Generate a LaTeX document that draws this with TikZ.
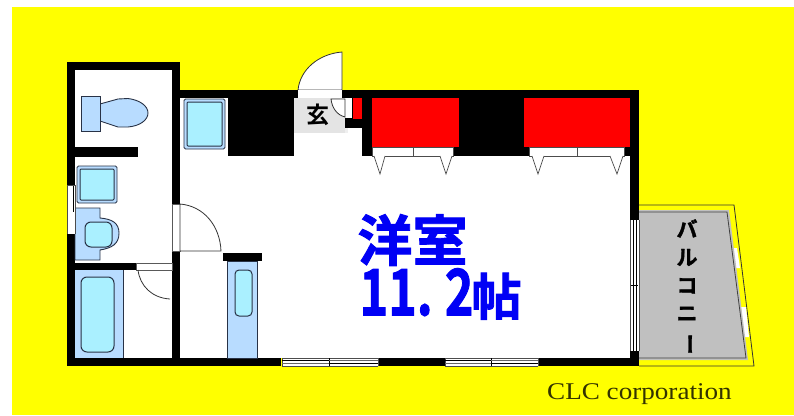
\documentclass[tikz,border=0pt]{standalone}
\usepackage{fontspec}
\usepackage{graphicx}
\setmainfont{Liberation Serif}
\newfontfamily\cjk{Noto Sans CJK JP}[BoldFont={* Bold}]
\newfontfamily\cjkheavy{Noto Sans CJK JP Bold}[FakeBold=1.6]
\definecolor{yel}{RGB}{255,255,0}
\definecolor{fixt}{RGB}{184,220,255}
\definecolor{aqua}{RGB}{170,240,255}
\definecolor{edge}{RGB}{40,50,70}
\definecolor{grayfloor}{RGB}{192,192,192}
\definecolor{hall}{RGB}{228,228,228}
\definecolor{roomblue}{RGB}{0,0,245}
\tikzset{
  wall/.style={fill=black,draw=none},
  openstrip/.style={fill=white,draw=black!65,line width=.7pt},
  doorleaf/.style={fill=white,draw=black!80,line width=.8pt},
  fixture/.style={fill=fixt,draw=edge,line width=.9pt},
  basin/.style={fill=aqua,draw=edge,line width=1pt},
  redbox/.style={fill=red,draw=none},
  hanger/.style={fill=white,draw=black!70,line width=.7pt},
}
\begin{document}
\begin{tikzpicture}[x=1pt,y=-1pt]
\useasboundingbox (0,0) rectangle (794,415);
\fill[white] (0,0) rectangle (794,415);
\fill[yel] (12,7) rectangle (794,415);
% floor
\fill[white] (75,70) rectangle (172,358);
\fill[white] (180,98) rectangle (630,358);
% balcony
\draw[fill=yel,draw=black!80,line width=.8pt] (639,205) -- (734,205) -- (754,366) -- (639,366);
\fill[white] (732,248) -- (737,248) -- (740,268) -- (735,268) -- cycle;
\fill[white] (741,307) -- (746,307) -- (749,337) -- (744,337) -- cycle;
\fill[grayfloor] (639,210) -- (729,210) -- (748,360) -- (639,360) -- cycle;
\draw[fill=grayfloor,draw=black!75,line width=.8pt] (639,212) -- (727,212) -- (746,358) -- (639,358);
% walls
\path[wall] (67,62) rectangle (180,70);
\path[wall] (67,62) rectangle (75,185);
\path[wall] (67,233) rectangle (75,366);
\path[wall] (172,62) rectangle (180,204);
\path[wall] (172,251) rectangle (180,366);
\path[wall] (180,90) rectangle (639,98);
\path[wall] (75,147) rectangle (138,157);
\path[wall] (75,263) rectangle (136,270);
\path[wall] (67,358) rectangle (281,366);
\path[wall] (378,358) rectangle (445,366);
\path[wall] (538,358) rectangle (639,366);
\path[wall] (630,90) rectangle (639,220);
\path[wall] (630,351) rectangle (639,366);
\path[wall] (228,98) rectangle (294,156);
\path[wall] (362,98) rectangle (630,156);
\path[wall] (343,98) rectangle (362,128);
% hall
\fill[hall] (294,98) rectangle (345,133);
\fill[hall!60!white] (345,128) rectangle (348,133);
\node[font=\cjk\bfseries,inner sep=0pt] (genkan) at (318,115) {\fontsize{23}{23}\selectfont 玄};
% entrance door
\draw[doorleaf] (342,90) -- (342,52) .. controls (318,54) and (300,70) .. (298,90) -- cycle;
\fill[white] (298,90) rectangle (342,98);
% small cupboard by the door
\fill[white] (345,98) rectangle (352,118);
\draw[doorleaf] (331,99) .. controls (332,108) and (337,115) .. (345,117) -- (345,99) -- cycle;
\path[redbox] (353,98) rectangle (362,119);
% closets
\path[redbox] (372,98) rectangle (459,147);
\path[redbox] (524,98) rectangle (630,147);
\draw[hanger] (372,147) rectangle (413,156);
\draw[hanger] (413,147) rectangle (453,156);
\draw[hanger] (529,147) rectangle (577,156);
\draw[hanger] (577,147) rectangle (624,156);
\draw[hanger] (374,156) -- (380,174) -- (385,156);
\draw[hanger] (440,156) -- (446,174) -- (452,156);
\draw[hanger] (532,156) -- (538,174) -- (544,156);
\draw[hanger] (610,156) -- (617,174) -- (623,156);
% toilet
\draw[fixture] (100,104) -- (118,99) -- (128,98.5) .. controls (140,100) and (148,106) .. (148,113) .. controls (148,120) and (140,126) .. (128,127) -- (118,127) -- (100,121) -- cycle;
\draw[fixture] (81,96) rectangle (100,131);
% tubs & basins
\draw[fixture,rounded corners=1.5pt] (184,99) rectangle (225,149);
\draw[basin,rounded corners=1pt] (187,102) rectangle (222,146);
\draw[fixture,rounded corners=1.5pt] (77,166) rectangle (117,203);
\draw[basin,rounded corners=1pt] (80,169) rectangle (114,200);
% washbasin
\draw[fixture,draw=edge] (75,208) -- (100,208) -- (100,218) .. controls (112,219) and (119,223) .. (119,233) .. controls (119,244) and (112,248) .. (100,250) -- (100,260) -- (75,260) -- cycle;
\draw[basin,rounded corners=6pt] (85,222) rectangle (112,247);
% side window left
\fill[white] (67,185) rectangle (75,234);
\draw[black!70,line width=.6pt] (67,185) -- (75,185) (75,185) -- (75,234) (67,234) -- (67,185);
\draw[black,line width=1pt] (73,186) -- (73,212);
% bath
\fill[fixt] (75,270) rectangle (123,358);
\draw[edge,line width=.8pt] (123,270) -- (123,358);
\draw[basin,rounded corners=6pt] (81,277) rectangle (114,352);
% doors
\draw[openstrip] (172,204) rectangle (180,251);
\draw[doorleaf] (180,251) -- (221,251) .. controls (220,226) and (204,206) .. (180,204) -- cycle;
\draw[openstrip] (136,263) rectangle (172,270);
\draw[black!80,line width=.8pt] (138,270) .. controls (140,286) and (152,298) .. (170,299);
% closet unit
\draw[fixture,line width=.8pt] (227.5,261) rectangle (257.5,358);
\path[wall] (223,253) rectangle (262,261);
\draw[basin,rounded corners=4pt] (235,270) rectangle (252,316);
% bottom windows
\foreach \a/\m/\b in {282/329/378,445/491/538}{
  \fill[white] (\a,358) rectangle (\b,366);
  \draw[black!70,line width=.6pt] (\a,358) -- (\b,358) (\a,366) -- (\b,366) (\a,358) -- (\a,366) (\b,358) -- (\b,366);
  \draw[black,line width=.7pt] (\a,360.5) -- (\m+5,360.5) (\m-5,363) -- (\b,363) (\m,358) -- (\m,366);
  \draw[black!60,line width=.7pt] (\m,363.5) -- (\a,363.5) (\m,360.5) -- (\b,360.5);
}
% east window
\fill[white] (630,220) rectangle (639,351);
\draw[black!70,line width=.6pt] (630,220) -- (630,351) (639,220) -- (639,351);
\draw[black,line width=.7pt] (633,220) -- (633,351) (636,220) -- (636,351) (631,285) -- (638,285);
% labels
\node[font=\cjkheavy,text=roomblue,inner sep=0pt] (room) at (412.5,240) {\fontsize{55}{55}\selectfont 洋室};
\node[font=\cjkheavy,text=roomblue,inner sep=0pt] (size) at (440.5,294) {\fontsize{64}{64}\selectfont\scalebox{.76}[1]{11.\hspace{16pt}2}\hspace{-2pt}\fontsize{50}{50}\selectfont 帖};
\node[font=\cjkheavy\fontsize{21}{28}\selectfont,inner sep=0pt,align=center] (balcony) at (687,287) {バ\\ル\\コ\\ニ\\\rotatebox[origin=c]{-90}{ー}};
\node[anchor=base west,inner sep=0pt,text=black!80!yel] (clc) at (547,399) {\fontsize{24}{24}\selectfont\scalebox{1.13}[1]{CLC corporation}};
\end{tikzpicture}
\end{document}
